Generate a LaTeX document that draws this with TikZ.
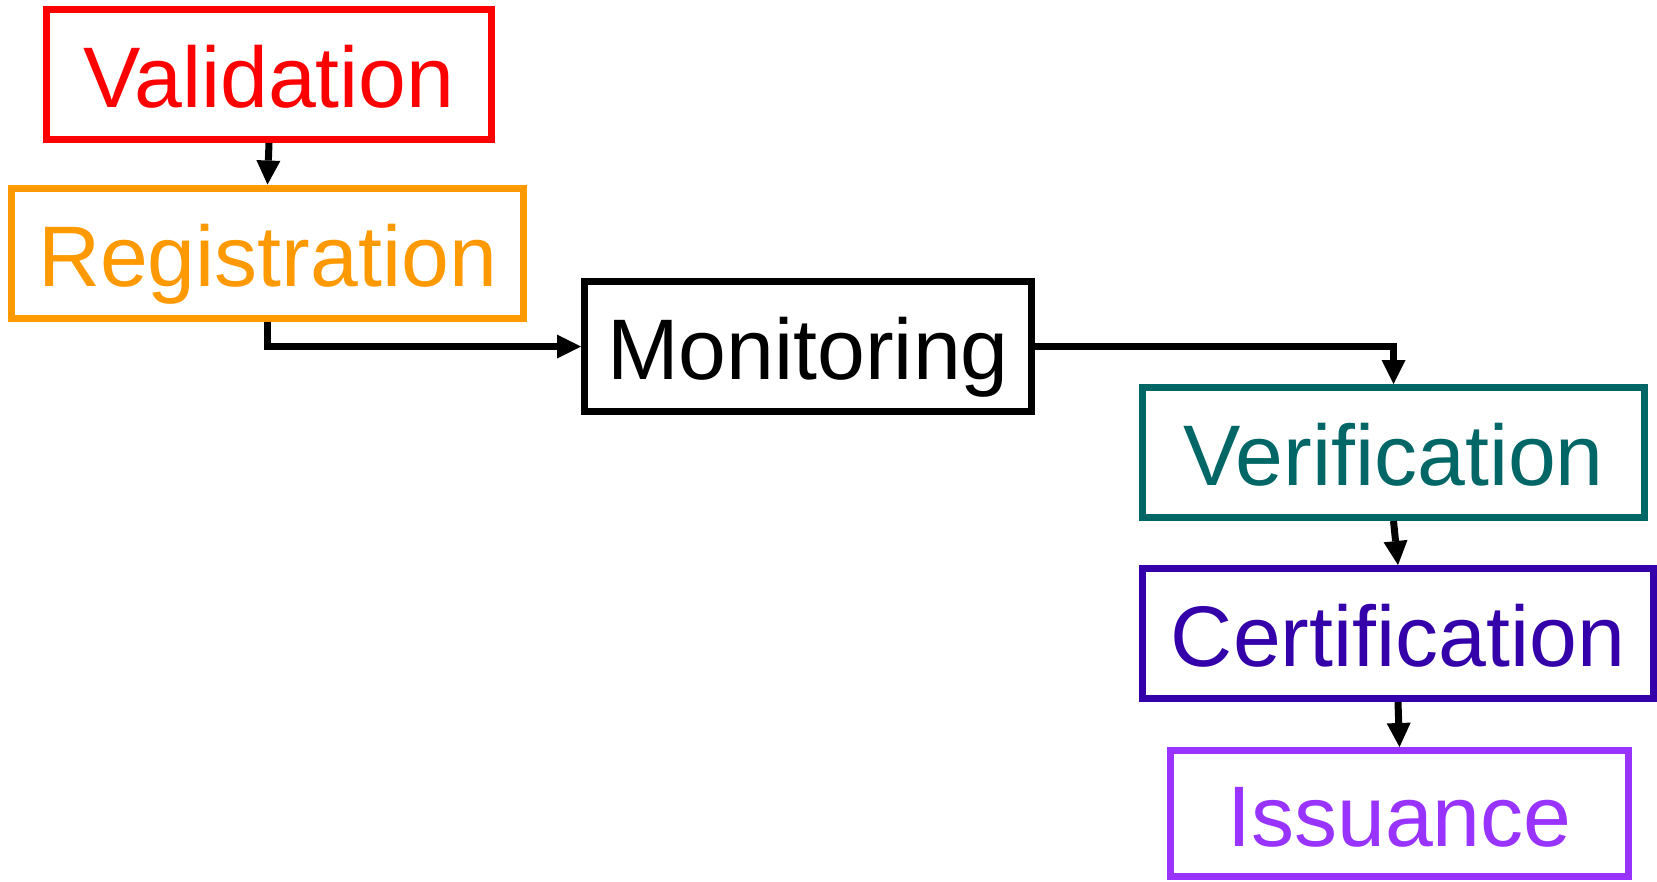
\documentclass[tikz,border=0pt]{standalone}
\usepackage{fontspec}
\setmainfont{Liberation Sans}
\usetikzlibrary{arrows.meta}
\definecolor{cval}{HTML}{FF0000}
\definecolor{creg}{HTML}{FF9900}
\definecolor{cver}{HTML}{006666}
\definecolor{ccert}{HTML}{3300AA}
\definecolor{ciss}{HTML}{9933FF}
\tikzset{
  stagebox/.style={draw, line width=7pt, inner sep=0pt, minimum height=130pt,
    text height=66pt, text depth=0pt, font=\fontsize{86}{100}\selectfont, fill=white},
  flowarrow/.style={draw=black, line width=7pt,
    -{Triangle[width=24pt,length=24pt,line width=0pt]}}
}
\begin{document}
\begin{tikzpicture}[x=1pt,y=-1pt]
\useasboundingbox[fill=white] (0,0) rectangle (1657,881);
\node[stagebox, draw=cval, text=cval, minimum width=445pt] (val) at (269,74.5) {Validation};
\node[stagebox, draw=creg, text=creg, minimum width=512pt] (reg) at (267.5,253) {Registration};
\node[stagebox, draw=black, text=black, minimum width=447pt] (mon) at (808,346.5) {Monitoring};
\node[stagebox, draw=cver, text=cver, minimum width=502pt] (ver) at (1393.5,452.5) {Verification};
\node[stagebox, draw=ccert, text=ccert, minimum width=511pt] (cert) at (1398,633.5) {Certification};
\node[stagebox, draw=ciss, text=ciss, minimum width=458pt, minimum height=126pt] (iss) at (1399.5,813.5) {Issuance};
\draw[flowarrow] (val.south) -- (reg.north);
\draw[flowarrow] (reg.south) |- (mon.west);
\draw[flowarrow] (mon.east) -| (ver.north);
\draw[flowarrow] (ver.south) -- (cert.north);
\draw[flowarrow] (cert.south) -- (iss.north);
\end{tikzpicture}
\end{document}
